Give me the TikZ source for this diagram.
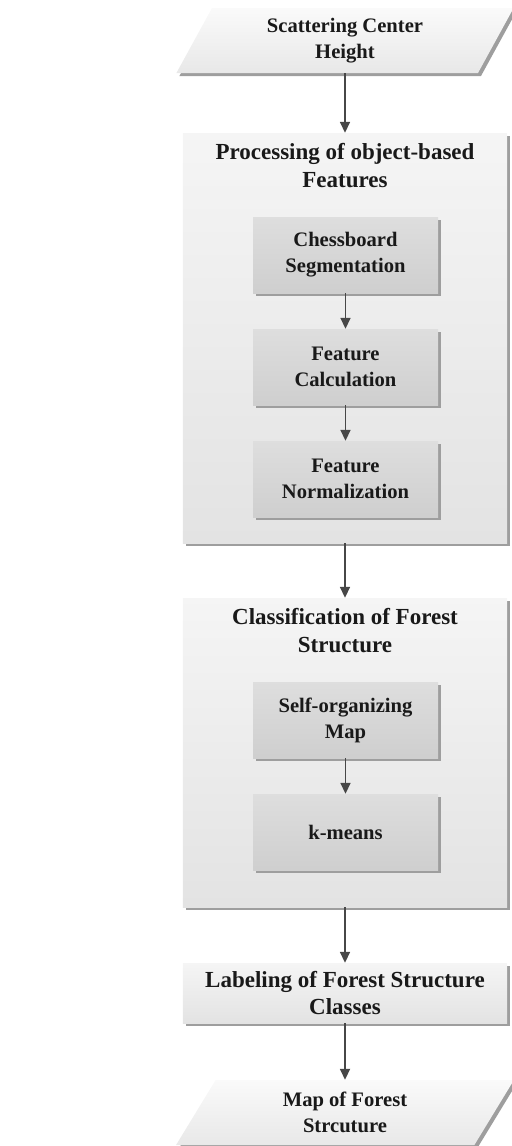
\documentclass[tikz,border=0pt]{standalone}
\usepackage{fontspec}
\setmainfont{Liberation Serif}
\usetikzlibrary{shapes.geometric,shadows,arrows.meta}

\begin{document}
\begin{tikzpicture}[x=1bp, y=-1bp,
    every node/.style={text=black!90, align=center},
    boxshadow/.style={drop shadow={shadow xshift=3bp, shadow yshift=-3bp, fill=black!38, opacity=1}},
    groupbox/.style={rectangle, boxshadow, top color=black!4, bottom color=black!11,
        minimum width=324bp, inner sep=0pt},
    grouptitle/.style={anchor=north, inner sep=0pt, yshift=-10bp,
        font=\fontsize{23bp}{28bp}\bfseries\selectfont},
    stepbox/.style={rectangle, boxshadow, top color=black!13, bottom color=black!19,
        minimum width=185bp, minimum height=76bp, inner sep=0pt,
        font=\fontsize{20.6bp}{26bp}\bfseries\selectfont},
    iobox/.style={trapezium, trapezium stretches=true, boxshadow,
        trapezium left angle=65, trapezium right angle=115,
        minimum width=338bp, minimum height=65bp, inner sep=0pt,
        top color=black!2, bottom color=black!9,
        font=\fontsize{20.6bp}{26bp}\bfseries\selectfont},
    flow/.style={draw=black!72, line width=1.7bp, -{Triangle[width=10bp,length=11bp]}}]

    \useasboundingbox (0,0) rectangle (512,1146);

    % input and output
    \node[iobox] (scat) at (345, 40.5) {Scattering Center\\Height};
    \node[iobox] (map) at (345, 1112.5) {Map of Forest\\Strcuture};

    % object-based features
    \node[groupbox, minimum height=410bp] (proc) at (345, 338) {};
    \node[grouptitle] (proctitle) at (proc.north) {Processing of object-based\\Features};
    \node[stepbox] (chess) at (345.5, 255) {Chessboard\\Segmentation};
    \node[stepbox] (calc) at (345.5, 367) {Feature\\Calculation};
    \node[stepbox] (norm) at (345.5, 479) {Feature\\Normalization};

    % classification
    \node[groupbox, minimum height=309bp] (class) at (345, 752.5) {};
    \node[grouptitle] (classtitle) at (class.north) {Classification of Forest\\Structure};
    \node[stepbox] (som) at (345.5, 720) {Self-organizing\\Map};
    \node[stepbox] (kmeans) at (345.5, 832) {k-means};

    \node[groupbox, minimum height=60bp,
          font=\fontsize{23bp}{27bp}\bfseries\selectfont] (label) at (345, 993)
          {Labeling of Forest Structure\\Classes};

    \draw[flow] (scat) -- (proc);
    \draw[flow] (chess) -- (calc);
    \draw[flow] (calc) -- (norm);
    \draw[flow] (proc) -- (class);
    \draw[flow] (som) -- (kmeans);
    \draw[flow] (class) -- (label);
    \draw[flow] (label) -- (map);

\end{tikzpicture}
\end{document}
